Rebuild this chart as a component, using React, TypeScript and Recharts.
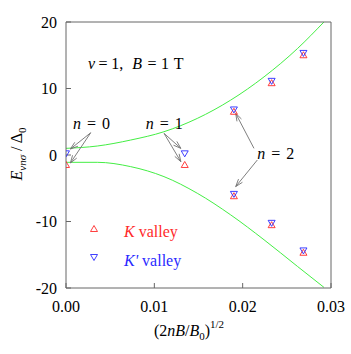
import React from "react";
import {
  ComposedChart,
  Line,
  Scatter,
  XAxis,
  YAxis,
  ReferenceLine,
  ReferenceDot,
  Legend,
} from "recharts";

// Landau level positions, x = (2nB/B0)^1/2 for n = 0..4 (n >= 2 has an upper and a lower branch)
const levelX = [0, 0.01344, 0.01901, 0.01901, 0.02328, 0.02328, 0.02688, 0.02688];
const kValleyE = [-1.5, -1.5, 6.5, -6.2, 10.8, -10.55, 15.0, -14.7];
const kPrimeValleyE = [0.25, 0.25, 6.85, -5.85, 11.15, -10.2, 15.35, -14.35];

// green curves
const curveX = [0, 0.00354, 0.00732, 0.01109, 0.01486, 0.01864, 0.02242, 0.0262, 0.0292];
const upperCurveE = [1.0, 1.35, 2.25, 3.5, 5.5, 8.25, 11.75, 16.0, 20.0];
const lowerCurveE = [-1.1, -1.1, -1.75, -3.25, -5.75, -9.0, -12.75, -16.75, -19.9];

const xTicks = [0, 0.01, 0.02, 0.03];
const yTicks = [-20, -10, 0, 10, 20];

// "n = ..." annotations: label anchor and arrows (from -> to), in data units
const nLabels = ["0", "1", "2"];
const nLabelX = [0.00079, 0.00902, 0.02166];
const nLabelY = [3.85, 3.85, -0.6];
const arrowFrom = [
  [0.0028, 3.35], [0.0028, 3.35],
  [0.0111, 3.25], [0.0111, 3.25],
  [0.02128, 1.0], [0.02166, -0.75],
];
const arrowTo = [
  [0.0005, 0.9], [0.0005, -1.2],
  [0.013, 1.0], [0.013, -1.0],
  [0.01921, 6.25], [0.01921, -4.75],
];

const serif = "'Liberation Serif', 'Times New Roman', serif";
const red = "#ff2a2a";
const blue = "#2a2aff";
const green = "#44ee44";
const axisGray = "#666";

const toPoints = (xs: number[], es: number[]) => xs.map((x, i) => ({ x, e: es[i] }));
const kData = toPoints(levelX, kValleyE);
const kpData = toPoints(levelX, kPrimeValleyE);
const upperData = toPoints(curveX, upperCurveE);
const lowerData = toPoints(curveX, lowerCurveE);

const UpTri = (p: any) => (
  <polygon
    points={`${p.cx - 3.5},${p.cy + 2.5} ${p.cx + 3.5},${p.cy + 2.5} ${p.cx},${p.cy - 3.5}`}
    fill="none"
    stroke={red}
    strokeWidth={0.9}
  />
);

const DownTri = (p: any) => (
  <polygon
    points={`${p.cx - 3.5},${p.cy - 2.5} ${p.cx + 3.5},${p.cy - 2.5} ${p.cx},${p.cy + 3.5}`}
    fill="none"
    stroke={blue}
    strokeWidth={0.9}
  />
);

const Arrow = (p: any) => {
  const { x1, y1, x2, y2 } = p;
  const a = Math.atan2(y2 - y1, x2 - x1);
  const L = 8;
  const w = 0.32;
  const h1 = `${x2 - L * Math.cos(a - w)},${y2 - L * Math.sin(a - w)}`;
  const h2 = `${x2 - L * Math.cos(a + w)},${y2 - L * Math.sin(a + w)}`;
  return (
    <g stroke="#707070" strokeWidth={0.9} fill="none">
      <line x1={x1} y1={y1} x2={x2} y2={y2} />
      <polyline points={`${h1} ${x2},${y2} ${h2}`} />
    </g>
  );
};

const XLabel = (props: any) => {
  const vb = props.viewBox;
  const cx = vb.x + vb.width / 2 - 9.5;
  const y = vb.y + 48;
  return (
    <text x={cx} y={y} textAnchor="middle" fontSize={16} fill="#000">
      (2<tspan fontStyle="italic">nB</tspan>/<tspan fontStyle="italic">B</tspan>
      <tspan fontSize={11} dy={4}>0</tspan>
      <tspan dy={-4}>)</tspan>
      <tspan fontSize={11} dy={-8}>1/2</tspan>
    </text>
  );
};

const YLabel = (props: any) => {
  const vb = props.viewBox;
  const cx = vb.x + 22;
  const cy = vb.y + vb.height / 2 - 1;
  return (
    <text
      x={cx}
      y={cy}
      transform={`rotate(-90, ${cx}, ${cy})`}
      textAnchor="middle"
      fontSize={16}
      fill="#000"
    >
      <tspan fontStyle="italic">E</tspan>
      <tspan fontStyle="italic" fontSize={11} dy={4}>νnσ</tspan>
      <tspan dy={-4}> / Δ</tspan>
      <tspan fontSize={11} dy={4}>0</tspan>
    </text>
  );
};

const LegendBox = () => (
  <div style={{ position: "relative", width: 130, height: 60, fontFamily: serif, fontSize: 16 }}>
    <svg width={12} height={12} style={{ position: "absolute", left: 0, top: 3 }}>
      <UpTri cx={6} cy={6} />
    </svg>
    <span style={{ position: "absolute", left: 36, top: 4, lineHeight: "16px", color: red, whiteSpace: "nowrap" }}>
      <i>K</i> valley
    </span>
    <svg width={12} height={12} style={{ position: "absolute", left: 0, top: 31 }}>
      <DownTri cx={6} cy={6} />
    </svg>
    <span style={{ position: "absolute", left: 36, top: 33, lineHeight: "16px", color: blue, whiteSpace: "nowrap" }}>
      <i>K'</i> valley
    </span>
  </div>
);

const NText = (label: string) => (p: any) => (
  <text x={p.cx} y={p.cy} fontSize={16} fill="#000">
    <tspan fontStyle="italic">n</tspan>
    <tspan dx={6}>=</tspan>
    <tspan dx={6}>{label}</tspan>
  </text>
);

const TitleText = (p: any) => (
  <text x={p.cx} y={p.cy} fontSize={16} fill="#000">
    <tspan fontStyle="italic">ν</tspan>
    <tspan dx={3.5}>=</tspan>
    <tspan dx={3.5}>1,</tspan>
    <tspan dx={9} fontStyle="italic">B</tspan>
    <tspan dx={5.5}>=</tspan>
    <tspan dx={4.5}>1</tspan>
    <tspan dx={4.7}>T</tspan>
  </text>
);

export default function App() {
  const tickStyle = { fill: "#000", fontSize: 16 };
  return (
    <div>
      <style>{`body{margin:0} svg text, svg tspan { font-family: 'Liberation Serif', 'Times New Roman', serif; }`}</style>
      <ComposedChart width={351} height={354} margin={{ top: 22, right: 20, bottom: 0, left: 0 }}>
        <XAxis
          dataKey="x"
          type="number"
          domain={[0, 0.03]}
          allowDataOverflow
          ticks={xTicks}
          tickFormatter={(v: number) => v.toFixed(2)}
          height={66}
          tickSize={-5}
          tickMargin={18}
          tick={tickStyle}
          stroke={axisGray}
          label={XLabel}
        />
        <XAxis
          xAxisId="top"
          orientation="top"
          mirror
          type="number"
          domain={[0, 0.03]}
          allowDataOverflow
          ticks={xTicks}
          tick={false}
          tickSize={5}
          stroke={axisGray}
        />
        <YAxis
          dataKey="e"
          type="number"
          domain={[-20, 20]}
          allowDataOverflow
          ticks={yTicks}
          width={66}
          tickSize={-5}
          tickMargin={14}
          tick={tickStyle}
          stroke={axisGray}
          label={YLabel}
        />
        <YAxis
          yAxisId="right"
          orientation="right"
          mirror
          type="number"
          domain={[-20, 20]}
          allowDataOverflow
          ticks={yTicks}
          tick={false}
          tickSize={5}
          stroke={axisGray}
        />

        <Line data={upperData} dataKey="e" type="monotone" stroke={green} strokeWidth={1} dot={false} isAnimationActive={false} />
        <Line data={lowerData} dataKey="e" type="monotone" stroke={green} strokeWidth={1} dot={false} isAnimationActive={false} />

        <Scatter data={kData} dataKey="e" shape={UpTri} isAnimationActive={false} />
        <Scatter data={kpData} dataKey="e" shape={DownTri} isAnimationActive={false} />

        {arrowFrom.map((f, i) => (
          <ReferenceLine
            key={`arr${i}`}
            segment={[
              { x: f[0], y: f[1] },
              { x: arrowTo[i][0], y: arrowTo[i][1] },
            ]}
            shape={Arrow}
            ifOverflow="visible"
          />
        ))}

        {nLabels.map((l, i) => (
          <ReferenceDot key={`n${i}`} x={nLabelX[i]} y={nLabelY[i]} r={0} shape={NText(l)} ifOverflow="visible" />
        ))}
        <ReferenceDot x={0.00249} y={12.9} r={0} shape={TitleText} ifOverflow="visible" />

        <Legend
          content={LegendBox}
          layout="vertical"
          align="center"
          verticalAlign="middle"
          wrapperStyle={{ left: 88, top: 220, width: 130, height: 60 }}
        />
      </ComposedChart>
    </div>
  );
}
